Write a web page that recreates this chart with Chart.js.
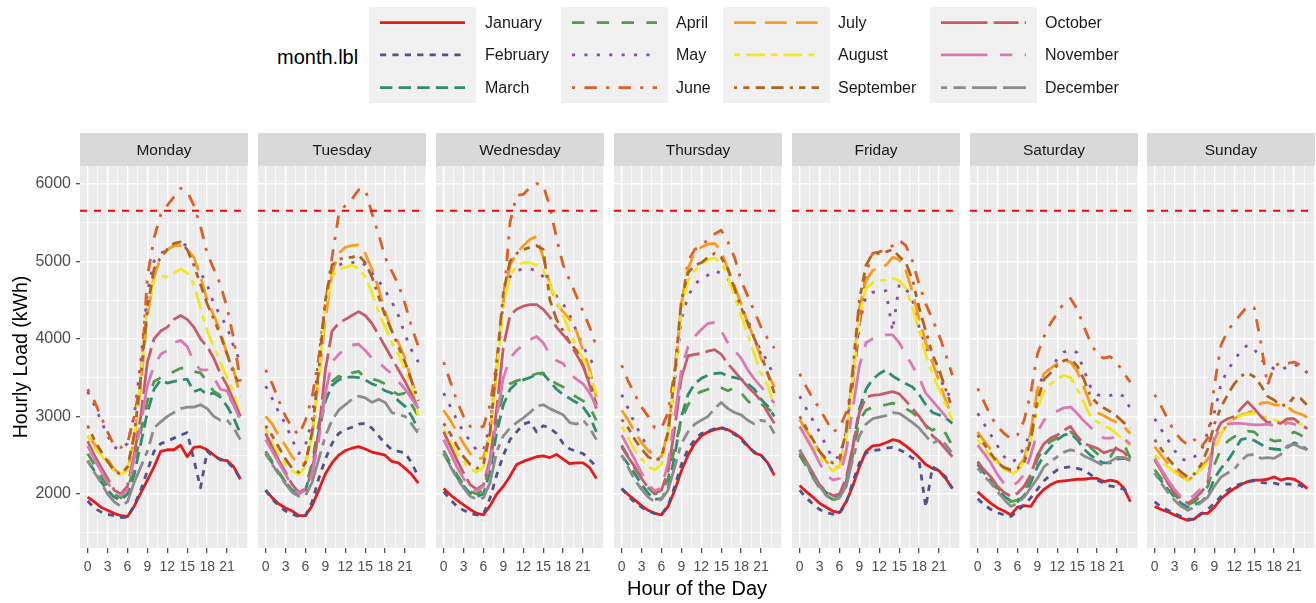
<!DOCTYPE html>
<html>
<head>
<meta charset="utf-8">
<title>Hourly Load by Weekday and Month</title>
<script src="https://cdn.jsdelivr.net/npm/chart.js@4.4.1/dist/chart.umd.min.js"></script>
<style>
  html, body { margin: 0; padding: 0; background: #ffffff; }
  body { position: relative; width: 1316px; height: 603px; overflow: hidden;
         font-family: "Liberation Sans", Arial, Helvetica, sans-serif; }
  canvas, .txt, .keybox { position: absolute; }
  .txt { white-space: nowrap; }
</style>
</head>
<body>
<script>
// ---------------------------------------------------------------
// Data: hourly load (kWh) for each weekday, one row per month,
// 24 values per row (hour 0 .. 23).
// ---------------------------------------------------------------
const HOURS = [0,1,2,3,4,5,6,7,8,9,10,11,12,13,14,15,16,17,18,19,20,21,22,23];
const MONTHS = ["January","February","March","April","May","June",
                "July","August","September","October","November","December"];
const DAYS = ["Monday","Tuesday","Wednesday","Thursday","Friday","Saturday","Sunday"];
const X_BREAKS = [0,3,6,9,12,15,18,21];
const Y_BREAKS = [2000,3000,4000,5000,6000];
const CAPACITY_KWH = 5650;

const monday = [
  [1960,1900,1830,1790,1750,1720,1710,1840,2010,2180,2350,2550,2570,2570,2630,2480,2600,2610,2570,2500,2440,2430,2350,2190],
  [1910,1820,1770,1740,1720,1700,1700,1850,2050,2300,2550,2650,2680,2720,2760,2790,2440,2080,2550,2480,2450,2420,2330,2200],
  [2430,2300,2160,2050,1960,1920,2000,2250,2650,3050,3350,3470,3430,3450,3470,3480,3320,3350,3280,3300,3250,3130,2980,2780],
  [2520,2380,2230,2100,2000,1950,2050,2350,2800,3200,3450,3500,3520,3580,3620,3630,3580,3560,3450,3320,3270,3300,3150,2950],
  [3320,3150,2950,2750,2600,2580,2650,3000,3700,4600,5000,5100,5150,5200,5230,5200,5000,4850,4700,4450,4300,4150,3900,3700],
  [3350,3200,3000,2800,2620,2600,2650,3000,3450,4800,5300,5600,5720,5830,5940,5900,5720,5450,5100,4900,4700,4400,4000,3450],
  [2750,2650,2550,2450,2320,2250,2300,2700,3400,4300,4800,5050,5150,5200,5200,5150,5050,4800,4500,4300,4100,3800,3600,3250],
  [2750,2600,2500,2400,2300,2250,2300,2700,3500,4400,4750,4800,4800,4850,4900,4850,4700,4400,4100,3900,3700,3500,3300,3000],
  [2880,2700,2550,2420,2300,2250,2350,2750,3500,4400,4900,5050,5150,5230,5250,5150,4950,4700,4450,4250,4050,3800,3550,3400],
  [2680,2500,2350,2200,2050,2000,2100,2500,3000,3700,4000,4100,4150,4250,4300,4250,4150,4000,3900,3750,3550,3400,3200,3000],
  [2620,2450,2300,2150,2020,1980,2050,2450,2900,3400,3650,3800,3850,3950,3980,3900,3700,3600,3600,3500,3350,3330,3150,2950],
  [2430,2280,2150,2000,1900,1840,1900,2150,2350,2550,2850,2930,3000,3050,3100,3120,3120,3150,3100,3000,2950,2950,2850,2700]
];
const tuesday = [
  [2050,1950,1870,1820,1780,1720,1720,1850,2050,2260,2400,2500,2560,2590,2610,2580,2540,2520,2500,2420,2400,2330,2250,2140],
  [2050,1930,1850,1780,1740,1710,1720,1900,2200,2450,2650,2780,2830,2860,2900,2910,2850,2750,2650,2570,2550,2530,2400,2220],
  [2520,2400,2270,2150,2050,2010,2050,2350,2800,3200,3400,3470,3500,3510,3500,3470,3420,3390,3330,3300,3200,3130,3000,2830],
  [2550,2420,2280,2150,2050,2000,2080,2400,2900,3300,3450,3520,3480,3560,3580,3500,3480,3460,3420,3330,3280,3300,3150,3000],
  [3390,3230,3050,2900,2700,2520,2630,2950,3750,4450,4900,4950,4980,4980,5000,4950,4850,4750,4620,4480,4300,4050,3850,3700],
  [3600,3420,3200,3000,2850,2760,2950,3250,3750,4450,5050,5600,5720,5800,5920,5930,5620,5350,5050,4870,4700,4450,4150,3900],
  [3000,2900,2750,2620,2480,2380,2400,2750,3500,4250,4850,5100,5180,5200,5210,5100,4900,4650,4350,4100,3950,3750,3450,3250],
  [2850,2650,2500,2380,2300,2250,2350,2750,3500,4400,4800,4900,4920,4950,4900,4800,4600,4350,4150,3950,3800,3600,3400,3000],
  [2880,2750,2600,2450,2330,2280,2400,2800,3600,4500,4950,5020,5050,5050,5080,4980,4800,4550,4300,4100,3900,3700,3450,3200],
  [2780,2600,2430,2280,2120,2020,2050,2300,2800,3600,4100,4200,4250,4300,4350,4300,4200,4050,3900,3750,3600,3450,3280,3100],
  [2700,2550,2400,2250,2100,2000,2050,2250,2700,3300,3700,3800,3870,3920,3930,3850,3750,3700,3620,3550,3450,3350,3230,3100],
  [2520,2380,2250,2130,2020,1970,1980,2150,2450,2750,2950,3080,3150,3220,3260,3240,3180,3220,3180,3050,3020,3000,2900,2780]
];
const wednesday = [
  [2070,1990,1920,1860,1800,1750,1730,1850,2000,2100,2230,2380,2420,2450,2480,2490,2470,2510,2450,2390,2400,2400,2340,2200],
  [2030,1930,1840,1790,1750,1730,1740,1950,2250,2500,2700,2800,2900,2930,2800,2880,2850,2780,2650,2580,2550,2520,2440,2350],
  [2520,2370,2220,2100,2010,1970,2000,2300,2800,3150,3350,3430,3470,3500,3540,3550,3450,3350,3280,3230,3180,3120,3000,2800],
  [2560,2400,2250,2120,2030,2000,2050,2400,2950,3300,3420,3460,3480,3520,3550,3560,3480,3420,3380,3300,3250,3200,3120,2950],
  [3300,3130,2950,2800,2680,2560,2560,2900,3600,4500,4800,4880,4900,4900,4880,4800,4700,4550,4450,4300,4100,3900,3750,3600],
  [3700,3450,3200,3000,2870,2850,2870,3150,3700,4450,5500,5850,5860,5950,6000,5980,5700,5300,4950,4750,4550,4350,4150,3900],
  [3080,2950,2800,2650,2520,2450,2470,2800,3600,4500,4950,5100,5200,5280,5320,5050,4700,4450,4350,4250,4100,3850,3600,3250],
  [2830,2680,2520,2420,2320,2280,2350,2750,3600,4450,4800,4950,4980,4980,4950,4880,4700,4500,4300,4100,3900,3750,3550,3300],
  [2910,2780,2620,2480,2380,2330,2380,2800,3700,4600,5000,5100,5150,5180,5200,5150,4500,4250,4100,3950,3850,3650,3450,3150],
  [2800,2620,2440,2270,2120,2060,2120,2450,3100,3900,4300,4380,4420,4440,4440,4380,4280,4150,4050,3950,3800,3650,3400,3100],
  [2700,2530,2350,2200,2080,2040,2100,2400,3000,3500,3750,3850,3920,3990,4030,3950,3800,3720,3680,3550,3480,3420,3300,3130],
  [2520,2360,2200,2080,1970,1930,1950,2150,2550,2750,2850,2920,2980,3050,3130,3150,3100,3060,3020,2920,2900,2950,2850,2700]
];
const thursday = [
  [2070,1990,1920,1850,1790,1750,1730,1840,2050,2300,2500,2650,2750,2800,2830,2850,2830,2780,2720,2620,2530,2500,2400,2240],
  [2070,1970,1890,1830,1780,1750,1740,1850,2100,2380,2580,2700,2780,2810,2840,2860,2820,2770,2700,2610,2540,2500,2400,2250],
  [2500,2380,2260,2120,2010,1930,1940,2080,2500,3000,3280,3420,3490,3530,3550,3560,3520,3500,3480,3420,3350,3220,3130,3000],
  [2630,2480,2330,2200,2080,2000,2020,2200,2600,2950,3150,3280,3320,3350,3390,3370,3330,3370,3300,3200,3130,3160,3100,3040],
  [3280,3100,2900,2750,2580,2450,2450,2750,3450,4250,4550,4700,4780,4820,4880,4840,4780,4600,4400,4250,4000,3850,3700,3500],
  [3660,3450,3280,3120,3000,2850,2850,3050,3600,4400,5000,5150,5200,5280,5350,5400,5250,5050,4750,4550,4350,4150,4000,3880],
  [3080,2950,2800,2660,2560,2470,2480,2800,3500,4450,4900,5120,5180,5220,5230,5130,4900,4680,4450,4200,4000,3750,3550,3380],
  [2870,2720,2560,2450,2350,2310,2380,2750,3500,4350,4750,4880,4950,5020,5040,4980,4800,4550,4300,4050,3800,3550,3400,3130],
  [2960,2850,2700,2580,2480,2430,2470,2800,3550,4500,4850,4950,4980,5050,5100,5050,4900,4650,4400,4200,4000,3800,3550,3300],
  [2610,2470,2350,2200,2080,2010,2050,2300,2850,3500,3780,3800,3810,3840,3860,3800,3680,3580,3480,3380,3300,3200,3050,2910],
  [2760,2600,2440,2270,2120,2040,2080,2400,3000,3600,3900,4030,4120,4200,4210,4100,3950,3850,3750,3600,3480,3380,3280,3170],
  [2500,2340,2180,2060,1960,1900,1930,2050,2350,2650,2800,2900,2950,3000,3100,3180,3100,3050,3020,2950,2900,2950,2930,2780]
];
const friday = [
  [2110,2030,1960,1880,1830,1780,1760,1900,2100,2350,2550,2620,2630,2660,2700,2680,2620,2550,2470,2380,2330,2300,2200,2070],
  [2050,1950,1870,1800,1760,1740,1750,1880,2150,2400,2530,2560,2570,2590,2600,2570,2530,2460,2420,1830,2350,2300,2220,2070],
  [2520,2380,2230,2100,2020,1970,1990,2150,2600,3100,3350,3480,3550,3600,3520,3470,3420,3380,3280,3150,3050,3020,2980,2910],
  [2500,2360,2210,2080,1980,1930,1950,2100,2500,2950,3080,3120,3130,3150,3170,3150,3100,3050,2980,2880,2820,2870,2780,2620],
  [3260,3100,2950,2800,2620,2450,2480,2800,3500,4200,4550,4600,4600,4620,4100,4700,4650,4500,4150,3900,3700,3500,3350,3200],
  [3550,3380,3230,3100,2950,2800,2850,3050,3400,4150,4850,5100,5120,5150,5200,5270,5200,5000,4700,4450,4250,4050,3800,3530],
  [2960,2820,2680,2550,2420,2330,2350,2750,3500,4400,4750,4880,4920,4950,5050,5020,4880,4600,4250,3950,3700,3450,3200,3000],
  [2870,2740,2600,2480,2380,2300,2350,2700,3450,4300,4650,4720,4750,4760,4780,4750,4650,4400,4100,3800,3550,3350,3150,2950],
  [3000,2850,2700,2550,2450,2400,2450,2800,3600,4500,4950,5100,5100,5120,5150,5060,4980,4760,4400,4100,3800,3600,3350,3100],
  [2570,2420,2270,2120,2030,1980,2000,2200,2600,3050,3250,3270,3280,3300,3320,3290,3200,3100,3000,2880,2750,2680,2580,2480],
  [2870,2720,2570,2400,2250,2180,2200,2550,3100,3650,3950,4000,4020,4050,4050,3950,3800,3650,3500,3300,3200,3100,3000,2850],
  [2570,2400,2230,2100,1980,1920,1950,2100,2450,2750,2900,2970,2990,3010,3050,3040,2980,2920,2850,2750,2650,2700,2640,2520]
];
const saturday = [
  [2030,1950,1880,1820,1780,1730,1830,1850,1840,1970,2060,2120,2160,2170,2180,2190,2190,2200,2200,2160,2180,2160,2080,1900],
  [1940,1860,1800,1760,1730,1710,1780,1860,1950,2060,2170,2250,2310,2340,2350,2330,2310,2250,2180,2140,2100,2090,2060,2030],
  [2380,2270,2170,2060,1970,1910,1900,1980,2150,2350,2500,2600,2700,2760,2780,2700,2580,2500,2440,2400,2400,2450,2460,2440],
  [2420,2300,2200,2080,1980,1900,1920,2030,2200,2450,2600,2680,2720,2760,2800,2740,2660,2600,2520,2460,2480,2620,2650,2460],
  [3040,2900,2760,2620,2480,2410,2450,2600,2800,3350,3550,3620,3740,3830,3860,3820,3600,3380,3280,3260,3270,3300,3260,3100],
  [3360,3180,3000,2870,2780,2710,2760,2950,3300,3800,4030,4200,4330,4460,4520,4380,4160,3950,3800,3750,3770,3690,3560,3440],
  [2800,2680,2570,2420,2330,2290,2340,2450,2800,3350,3550,3620,3680,3720,3700,3580,3380,3150,3050,3010,2960,2920,2870,2780],
  [2700,2590,2480,2400,2320,2250,2300,2420,2700,3100,3330,3420,3480,3530,3500,3350,3180,3000,2930,2880,2840,2770,2700,2620],
  [2760,2640,2520,2400,2340,2310,2330,2400,2700,3200,3480,3560,3660,3720,3740,3650,3480,3260,3170,3110,3060,3000,2920,2850],
  [2400,2310,2220,2100,2020,1970,2010,2100,2250,2500,2650,2720,2760,2820,2870,2740,2650,2620,2590,2530,2560,2580,2540,2450],
  [2630,2520,2400,2250,2130,2090,2150,2250,2500,2800,2950,3020,3070,3110,3120,3040,2940,2860,2780,2720,2720,2740,2720,2640],
  [2330,2230,2140,2030,1930,1840,1880,1960,2080,2200,2350,2420,2480,2540,2570,2550,2490,2450,2410,2360,2420,2470,2470,2430]
];
const sunday = [
  [1840,1800,1770,1730,1690,1660,1680,1750,1750,1830,1940,2010,2070,2120,2160,2180,2180,2190,2220,2180,2200,2190,2140,2070],
  [1900,1830,1790,1750,1710,1680,1670,1740,1800,1880,1970,2050,2100,2130,2160,2170,2150,2140,2140,2120,2130,2120,2110,2030],
  [2270,2170,2060,1960,1880,1830,1860,1900,1980,2200,2330,2430,2560,2700,2720,2690,2640,2590,2580,2570,2600,2660,2630,2570],
  [2310,2200,2090,1990,1900,1860,1900,1980,2100,2380,2580,2680,2740,2770,2810,2800,2720,2720,2680,2690,2740,2800,2760,2680],
  [2970,2830,2700,2560,2450,2430,2480,2550,2800,3050,3420,3600,3720,3850,3920,3870,3730,3680,3610,3600,3640,3670,3640,3560],
  [3280,3130,2960,2800,2700,2630,2700,2600,2720,3400,3920,4100,4220,4320,4420,4400,3950,3400,3650,3690,3680,3700,3660,3560],
  [2610,2500,2390,2300,2230,2180,2230,2340,2450,2560,2780,2900,2970,3020,3040,3080,3170,3180,3150,3140,3120,3060,3030,2990],
  [2500,2430,2350,2280,2210,2180,2250,2320,2400,2560,2790,2900,2970,3010,3030,3040,3010,2980,2960,2920,2940,2930,2900,2860],
  [2700,2580,2460,2360,2280,2220,2260,2380,2580,2900,3120,3280,3420,3520,3560,3510,3400,3260,3210,3140,3150,3250,3230,3140],
  [2440,2300,2140,2020,1940,1880,1940,2020,2140,2750,2920,2970,3000,3100,3190,3100,3000,2920,2930,2910,2970,2970,2900,2840],
  [2460,2320,2180,2060,1960,1920,1990,2070,2160,2700,2880,2900,2910,2910,2900,2890,2890,2900,2880,2860,2920,2900,2870,2850],
  [2270,2140,2020,1920,1840,1790,1830,1890,1960,2100,2220,2270,2320,2430,2500,2510,2460,2470,2460,2510,2620,2640,2600,2570]
];
const DAY_SERIES = [monday, tuesday, wednesday, thursday, friday, saturday, sunday];

// ---------------------------------------------------------------
// Styling
// ---------------------------------------------------------------
const FONT = '"Liberation Sans", Arial, Helvetica, sans-serif';
const MONTH_COLORS = ["#E41A1C","#545089","#2F8C72","#4F9A4B","#8A4CA8","#DC5F27",
                      "#F99B1C","#EFE820","#B0631E","#C45C6C","#DA78B4","#8C8C8C"];
// ggplot-style line types, in units of line width
const MONTH_DASH = [[], [2,2], [4,2], [4,4], [1,3], [1,3,4,3], [7,3], [2,2,6,2],
                    [1,2,2,2,3,2,4,2], [15,2,8,2], [15,4,4,4,8,4,4,4], [2,2,4,2,8,2,15,2]];
const LINE_W = 2.8;
const DASH_UNIT = 3.1;

// Layout (page pixels)
const PANEL_LEFT = [80, 258, 436, 614, 792, 970, 1147];
const PANEL_W = 168;
const STRIP_H = 33;
const PLOT_TOP = 166;
const PLOT_BOTTOM = 548;
const X_AXIS_H = 34;
const Y_AXIS_W = 80;

// axis limits with 5% padding around the hour range
const X_SPAN = HOURS[HOURS.length - 1] - HOURS[0];
const X_MIN = HOURS[0] - 0.05 * X_SPAN;
const X_MAX = HOURS[HOURS.length - 1] + 0.05 * X_SPAN;
const Y_MIN = 1304;
const Y_MAX = 6227;

// minor grid sits halfway between major breaks
function withMinor(breaks, lo, hi) {
  const step = breaks[1] - breaks[0];
  const out = [];
  for (let v = breaks[0] - step / 2; v <= hi; v += step / 2) {
    if (v >= lo) out.push(Math.round(v * 1000) / 1000);
  }
  return out;
}
const X_GRID = withMinor(X_BREAKS, X_MIN, X_MAX);
const Y_GRID = withMinor(Y_BREAKS, Y_MIN, Y_MAX);
const isMajor = (breaks, v) => breaks.includes(v);

// panel background + facet strip
const panelDecor = {
  id: 'panelDecor',
  beforeDraw(chart) {
    const a = chart.chartArea, ctx = chart.ctx;
    ctx.save();
    ctx.fillStyle = '#EBEBEB';
    ctx.fillRect(a.left, a.top, a.right - a.left, a.bottom - a.top);
    ctx.fillStyle = '#D9D9D9';
    ctx.fillRect(a.left, a.top - STRIP_H, a.right - a.left, STRIP_H);
    ctx.fillStyle = '#1A1A1A';
    ctx.font = '15.5px ' + FONT;
    ctx.textAlign = 'center';
    ctx.textBaseline = 'middle';
    ctx.fillText(chart.options.plugins.panelDecor.title, (a.left + a.right) / 2, a.top - STRIP_H / 2 + 1);
    ctx.restore();
  }
};

// keep the plot area exactly the panel size: no extra room for overhanging labels
function fixX(s) {
  s.height = X_AXIS_H;
  s.paddingLeft = 0; s.paddingRight = 0;
}

function buildPanel(dayIndex) {
  const showY = dayIndex === 0;
  const rows = DAY_SERIES[dayIndex];
  const cv = document.createElement('canvas');
  const left = showY ? PANEL_LEFT[0] - Y_AXIS_W : PANEL_LEFT[dayIndex];
  const w = showY ? Y_AXIS_W + PANEL_W : PANEL_W;
  const h = STRIP_H + (PLOT_BOTTOM - PLOT_TOP) + X_AXIS_H;
  cv.width = w; cv.height = h;
  cv.style.width = w + 'px'; cv.style.height = h + 'px';
  cv.style.left = left + 'px'; cv.style.top = (PLOT_TOP - STRIP_H) + 'px';
  document.body.appendChild(cv);

  const datasets = rows.map((vals, m) => ({
    label: MONTHS[m],
    data: vals.map((v, k) => ({ x: HOURS[k], y: v })),
    borderColor: MONTH_COLORS[m],
    borderWidth: LINE_W,
    borderDash: MONTH_DASH[m].map(u => u * DASH_UNIT),
    borderCapStyle: 'butt',
    borderJoinStyle: 'round',
    pointRadius: 0,
    fill: false,
    tension: 0,
    order: 11 - m
  }));
  datasets.push({
    label: 'capacity',
    data: [{ x: X_MIN, y: CAPACITY_KWH }, { x: X_MAX, y: CAPACITY_KWH }],
    borderColor: '#FF0000',
    borderWidth: 1.8,
    borderDash: [7, 7],
    pointRadius: 0,
    fill: false,
    order: -1
  });

  new Chart(cv, {
    type: 'line',
    data: { datasets },
    options: {
      responsive: false,
      animation: false,
      devicePixelRatio: 1,
      events: [],
      layout: { padding: { top: STRIP_H, left: 0, right: 0, bottom: 0 } },
      plugins: {
        legend: { display: false },
        tooltip: { enabled: false },
        panelDecor: { title: DAYS[dayIndex] }
      },
      scales: {
        x: {
          type: 'linear',
          min: X_MIN, max: X_MAX,
          afterBuildTicks: s => { s.ticks = X_GRID.map(v => ({ value: v })); },
          afterFit: fixX,
          border: { display: false },
          grid: {
            color: '#FFFFFF',
            lineWidth: c => (c.tick && isMajor(X_BREAKS, c.tick.value)) ? 1.4 : 0.7,
            tickColor: c => (c.tick && isMajor(X_BREAKS, c.tick.value)) ? '#333333' : 'rgba(0,0,0,0)',
            tickLength: 5,
            tickWidth: 1.1
          },
          ticks: {
            autoSkip: false, maxRotation: 0, minRotation: 0,
            padding: 6,
            color: '#4D4D4D',
            font: { family: FONT, size: 14 },
            callback: v => isMajor(X_BREAKS, v) ? String(v) : ''
          }
        },
        y: {
          type: 'linear',
          min: Y_MIN, max: Y_MAX,
          afterBuildTicks: s => { s.ticks = Y_GRID.map(v => ({ value: v })); },
          afterFit: s => { s.width = showY ? Y_AXIS_W : 0; s.paddingTop = 0; s.paddingBottom = 0; },
          border: { display: false },
          grid: {
            color: '#FFFFFF',
            lineWidth: c => (c.tick && isMajor(Y_BREAKS, c.tick.value)) ? 1.4 : 0.7,
            tickColor: c => (c.tick && isMajor(Y_BREAKS, c.tick.value)) ? '#333333' : 'rgba(0,0,0,0)',
            drawTicks: showY,
            tickLength: 4,
            tickWidth: 1.1
          },
          ticks: {
            display: showY,
            padding: 5,
            color: '#4D4D4D',
            font: { family: FONT, size: 16 },
            callback: v => isMajor(Y_BREAKS, v) ? String(v) : ''
          }
        }
      }
    },
    plugins: [panelDecor]
  });
}

function addText(str, css) {
  const d = document.createElement('div');
  d.className = 'txt';
  d.textContent = str;
  Object.assign(d.style, css);
  document.body.appendChild(d);
  return d;
}

// ---------------------------------------------------------------
// Legend (4 columns x 3 rows, filled column-wise)
// ---------------------------------------------------------------
function buildLegend() {
  const colBox = [369, 561, 723, 930];
  const colLabel = [485, 676, 838, 1045];
  const rowY = [22.7, 54.8, 87.6];
  const boxW = 107, boxTop = 6.5, boxH = 96, inset = 11;

  addText('month.lbl', { left: '277px', top: '45px', lineHeight: '24px', fontSize: '20px', color: '#000' });

  colBox.forEach(x => {
    const b = document.createElement('div');
    b.className = 'keybox';
    Object.assign(b.style, { left: x + 'px', top: boxTop + 'px', width: boxW + 'px', height: boxH + 'px', background: '#F0F0F0' });
    document.body.appendChild(b);
  });

  const cv = document.createElement('canvas');
  cv.width = 1316; cv.height = 110;
  Object.assign(cv.style, { left: '0px', top: '0px', width: '1316px', height: '110px' });
  document.body.appendChild(cv);
  const ctx = cv.getContext('2d');

  MONTHS.forEach((name, m) => {
    const col = Math.floor(m / 3), row = m % 3;
    const y = rowY[row];
    ctx.save();
    ctx.strokeStyle = MONTH_COLORS[m];
    ctx.lineWidth = LINE_W;
    ctx.lineCap = 'butt';
    ctx.setLineDash(MONTH_DASH[m].map(u => u * DASH_UNIT));
    ctx.beginPath();
    ctx.moveTo(colBox[col] + inset, y);
    ctx.lineTo(colBox[col] + boxW - inset, y);
    ctx.stroke();
    ctx.restore();
    addText(name, { left: colLabel[col] + 'px', top: (y - 10) + 'px', lineHeight: '20px', fontSize: '16px', color: '#1A1A1A' });
  });
}

// ---------------------------------------------------------------
buildLegend();
DAYS.forEach((d, i) => buildPanel(i));

// axis titles
addText('Hourly Load (kWh)', {
  left: (20 - 150) + 'px', top: ((PLOT_TOP + PLOT_BOTTOM) / 2 - 12) + 'px',
  width: '300px', lineHeight: '24px', textAlign: 'center', fontSize: '19.5px', color: '#000',
  transform: 'rotate(-90deg)', transformOrigin: '50% 50%'
});
addText('Hour of the Day', {
  left: (697 - 200) + 'px', top: (588 - 12) + 'px', width: '400px',
  lineHeight: '24px', textAlign: 'center', fontSize: '20px', color: '#000'
});
</script>
</body>
</html>
